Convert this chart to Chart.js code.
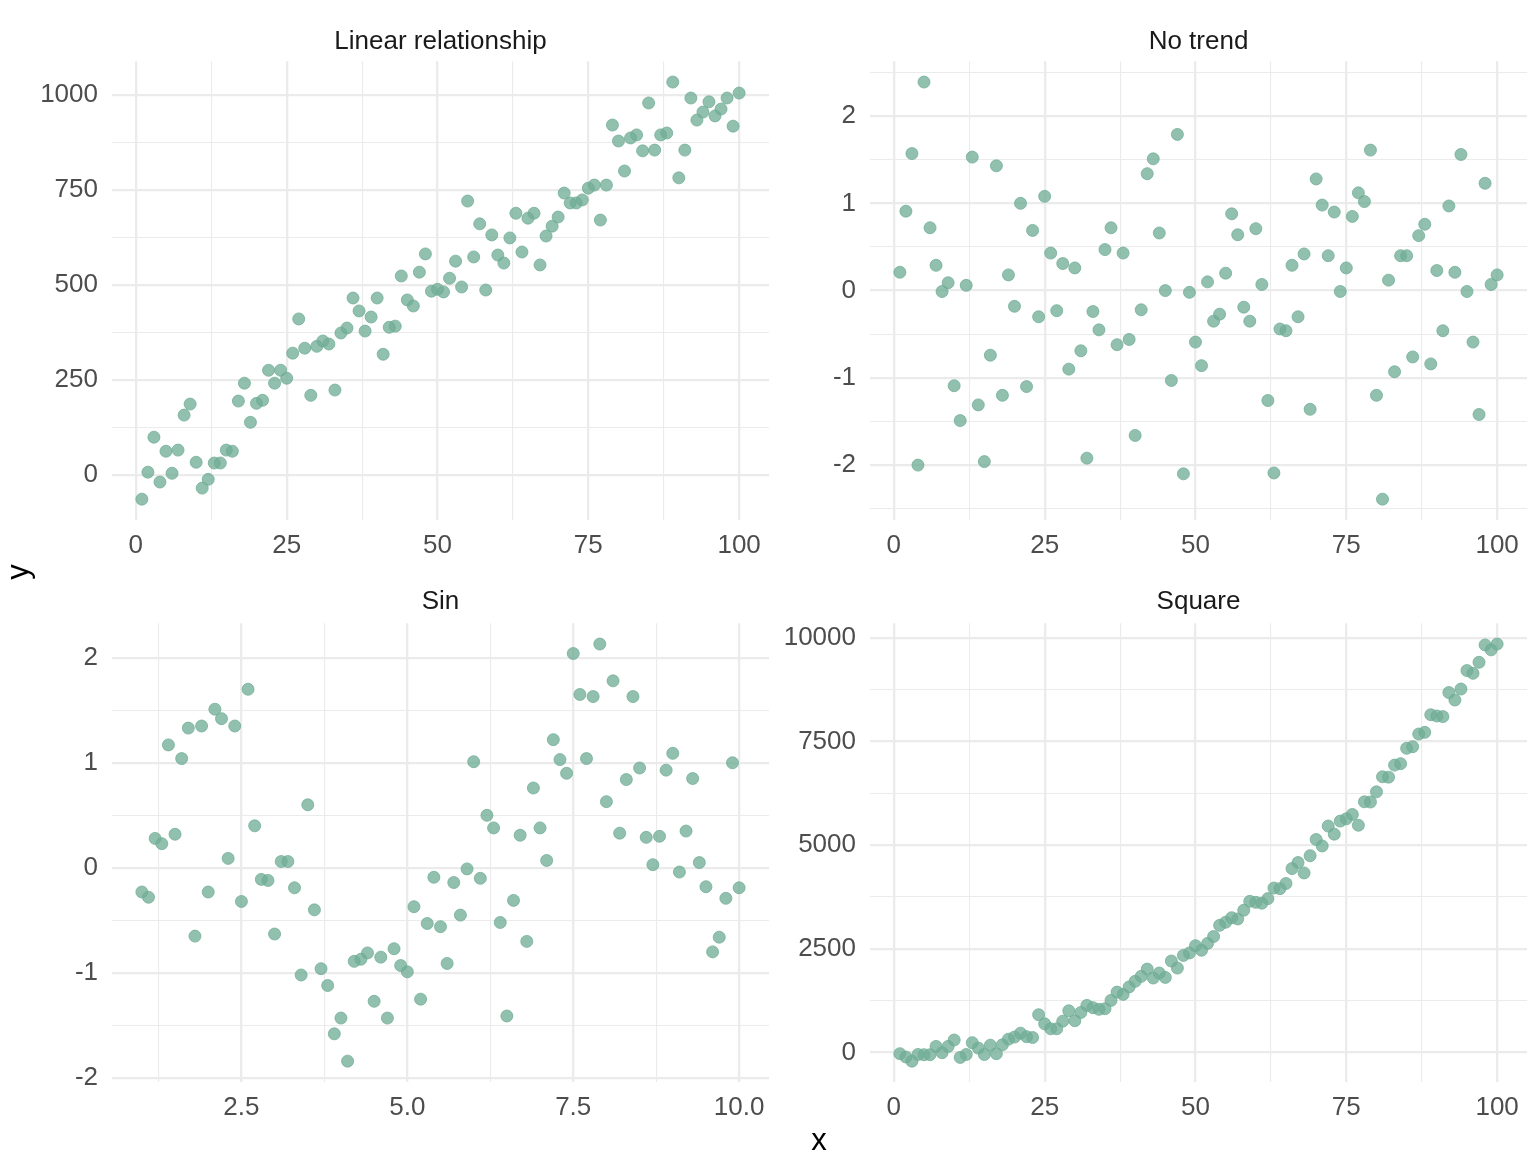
<!DOCTYPE html>
<html>
<head>
<meta charset="utf-8">
<title>Facets</title>
<script src="https://cdn.jsdelivr.net/npm/chart.js@4.4.1/dist/chart.umd.min.js"></script>
<style>
    html, body { margin: 0; padding: 0; background: #ffffff; }
    #page { position: relative; width: 1532px; height: 1152px; overflow: hidden; font-family: "Liberation Sans", Arial, sans-serif; }
    canvas { position: absolute; }
    .axis-title { position: absolute; width: 40px; height: 40px; line-height: 40px; text-align: center; font-size: 31px; color: #000000; }
</style>
</head>
<body>
<div id="page">
    <canvas id="linearChart" width="769" height="560" style="left:0px;top:0px"></canvas>
    <canvas id="noTrendChart" width="757" height="560" style="left:770px;top:0px"></canvas>
    <canvas id="sinChart" width="769" height="562" style="left:0px;top:560px"></canvas>
    <canvas id="squareChart" width="757" height="562" style="left:770px;top:560px"></canvas>
    <div class="axis-title" style="left:-2px;top:552px;transform:rotate(-90deg)">y</div>
    <div class="axis-title" style="left:799px;top:1120px">x</div>
</div>
<script>
"use strict";

var FONT = '"Liberation Sans", Arial, sans-serif';

/* x values for the three panels on 1..100 */
var stepX = [
    1, 2, 3, 4, 5, 6, 7, 8, 9, 10, 11, 12, 13, 14, 15, 16, 17, 18, 19, 20,
    21, 22, 23, 24, 25, 26, 27, 28, 29, 30, 31, 32, 33, 34, 35, 36, 37, 38, 39, 40,
    41, 42, 43, 44, 45, 46, 47, 48, 49, 50, 51, 52, 53, 54, 55, 56, 57, 58, 59, 60,
    61, 62, 63, 64, 65, 66, 67, 68, 69, 70, 71, 72, 73, 74, 75, 76, 77, 78, 79, 80,
    81, 82, 83, 84, 85, 86, 87, 88, 89, 90, 91, 92, 93, 94, 95, 96, 97, 98, 99, 100
];

/* x values for the sin panel, 1 to 10 by 0.1 */
var sinX = [
    1.0, 1.1, 1.2, 1.3, 1.4, 1.5, 1.6, 1.7, 1.8, 1.9,
    2.0, 2.1, 2.2, 2.3, 2.4, 2.5, 2.6, 2.7, 2.8, 2.9,
    3.0, 3.1, 3.2, 3.3, 3.4, 3.5, 3.6, 3.7, 3.8, 3.9,
    4.0, 4.1, 4.2, 4.3, 4.4, 4.5, 4.6, 4.7, 4.8, 4.9,
    5.0, 5.1, 5.2, 5.3, 5.4, 5.5, 5.6, 5.7, 5.8, 5.9,
    6.0, 6.1, 6.2, 6.3, 6.4, 6.5, 6.6, 6.7, 6.8, 6.9,
    7.0, 7.1, 7.2, 7.3, 7.4, 7.5, 7.6, 7.7, 7.8, 7.9,
    8.0, 8.1, 8.2, 8.3, 8.4, 8.5, 8.6, 8.7, 8.8, 8.9,
    9.0, 9.1, 9.2, 9.3, 9.4, 9.5, 9.6, 9.7, 9.8, 9.9,
    10.0
];

var linearY = [
    -63, 8, 100, -18, 63, 5, 66, 158, 187, 34,
    -34, -11, 32, 32, 66, 63, 195, 242, 139, 189,
    197, 276, 242, 276, 255, 321, 411, 334, 210, 339,
    353, 345, 224, 374, 387, 466, 432, 379, 416, 466,
    318, 389, 392, 524, 461, 445, 534, 582, 484, 489,
    482, 518, 563, 495, 721, 574, 661, 487, 632, 579,
    558, 624, 689, 587, 676, 689, 553, 629, 655, 679,
    742, 716, 716, 724, 755, 763, 671, 763, 921, 879,
    800, 887, 895, 853, 979, 855, 895, 900, 1034, 782,
    855, 992, 934, 955, 982, 945, 963, 992, 918, 1005
];

var noTrendY = [
    0.21, 0.91, 1.57, -2.00, 2.39, 0.72, 0.29, -0.01, 0.09, -1.09,
    -1.49, 0.06, 1.53, -1.31, -1.96, -0.74, 1.43, -1.20, 0.18, -0.18,
    1.00, -1.10, 0.69, -0.30, 1.08, 0.43, -0.23, 0.31, -0.90, 0.26,
    -0.69, -1.92, -0.24, -0.45, 0.47, 0.72, -0.62, 0.43, -0.56, -1.66,
    -0.22, 1.34, 1.51, 0.66, 0.00, -1.03, 1.79, -2.10, -0.02, -0.59,
    -0.86, 0.10, -0.35, -0.27, 0.20, 0.88, 0.64, -0.19, -0.35, 0.71,
    0.07, -1.26, -2.09, -0.44, -0.46, 0.29, -0.30, 0.42, -1.36, 1.28,
    0.98, 0.40, 0.90, -0.01, 0.26, 0.85, 1.12, 1.02, 1.61, -1.20,
    -2.39, 0.12, -0.93, 0.40, 0.40, -0.76, 0.63, 0.76, -0.84, 0.23,
    -0.46, 0.97, 0.21, 1.56, -0.01, -0.59, -1.42, 1.23, 0.07, 0.18
];

var sinY = [
    -0.23, -0.28, 0.28, 0.23, 1.17, 0.32, 1.04, 1.33, -0.65, 1.35,
    -0.23, 1.51, 1.42, 0.09, 1.35, -0.32, 1.70, 0.40, -0.11, -0.12,
    -0.63, 0.06, 0.06, -0.19, -1.02, 0.60, -0.40, -0.96, -1.12, -1.58,
    -1.43, -1.84, -0.89, -0.87, -0.81, -1.27, -0.85, -1.43, -0.77, -0.93,
    -0.99, -0.37, -1.25, -0.53, -0.09, -0.56, -0.91, -0.14, -0.45, -0.01,
    1.01, -0.10, 0.50, 0.38, -0.52, -1.41, -0.31, 0.31, -0.70, 0.76,
    0.38, 0.07, 1.22, 1.03, 0.90, 2.04, 1.65, 1.04, 1.63, 2.13,
    0.63, 1.78, 0.33, 0.84, 1.63, 0.95, 0.29, 0.03, 0.30, 0.93,
    1.09, -0.04, 0.35, 0.85, 0.05, -0.18, -0.80, -0.66, -0.29, 1.00,
    -0.19
];

var squareY = [
    -30, -110, -210, -50, -55, -55, 145, -7, 145, 300,
    -120, -50, 235, 105, -50, 175, -30, 185, 320, 370,
    465, 380, 360, 910, 690, 570, 570, 755, 1005, 765,
    965, 1135, 1080, 1040, 1055, 1255, 1455, 1400, 1580, 1715,
    1835, 2010, 1795, 1915, 1810, 2205, 2035, 2340, 2400, 2575,
    2465, 2630, 2795, 3065, 3140, 3250, 3220, 3430, 3645, 3620,
    3600, 3710, 3965, 3950, 4075, 4435, 4580, 4330, 4745, 5135,
    4980, 5460, 5265, 5580, 5635, 5740, 5480, 6045, 6040, 6285,
    6650, 6640, 6930, 6965, 7335, 7375, 7680, 7720, 8145, 8115,
    8100, 8680, 8500, 8765, 9210, 9145, 9410, 9830, 9710, 9850
];

/* labelled (major) ticks; minor grid lines fall half way between */
var stepXTicks = [0, 25, 50, 75, 100];
var sinXTicks = [2.5, 5.0, 7.5, 10.0];
var linearYTicks = [0, 250, 500, 750, 1000];
var noTrendYTicks = [-2, -1, 0, 1, 2];
var sinYTicks = [-2, -1, 0, 1, 2];
var squareYTicks = [0, 2500, 5000, 7500, 10000];

var pointColor = "rgba(112,172,150,0.76)";

function isMajor(value, majorTicks) {
    for (var i = 0; i < majorTicks.length; i++) {
        if (Math.abs(majorTicks[i] - value) < 1e-9) return true;
    }
    return false;
}

// ggplot style 5% expansion of the data range
function expandRange(values) {
    var lo = Math.min.apply(null, values);
    var hi = Math.max.apply(null, values);
    var pad = (hi - lo) * 0.05;
    return { min: lo - pad, max: hi + pad };
}

function axisOptions(values, majorTicks, format, horizontal, fixedSize) {
    var range = expandRange(values);
    var half = (majorTicks[1] - majorTicks[0]) / 2;
    return {
        type: "linear",
        min: range.min,
        max: range.max,
        border: { display: false },
        grid: {
            color: "#EBEBEB",
            drawTicks: false,
            lineWidth: function (ctx) {
                if (!ctx.tick) return 1.1;
                return isMajor(ctx.tick.value, majorTicks) ? 2.3 : 1.1;
            }
        },
        // major ticks plus the minor ones half way between them
        afterBuildTicks: function (scale) {
            var ticks = [];
            var last = majorTicks[majorTicks.length - 1] + half;
            for (var v = majorTicks[0] - half; v <= last + 1e-9; v += half) {
                var t = Math.round(v * 1e6) / 1e6;
                if (t >= scale.min && t <= scale.max) ticks.push({ value: t });
            }
            scale.ticks = ticks;
        },
        ticks: {
            autoSkip: false,
            maxRotation: 0,
            minRotation: 0,
            padding: horizontal ? 10 : 14,
            color: "#4D4D4D",
            font: { family: FONT, size: 26 },
            callback: function (value) {
                return isMajor(value, majorTicks) ? format(value) : "";
            }
        },
        // fixed axis size, and no extra room pushed into the plot for edge labels
        afterFit: function (scale) {
            if (horizontal) scale.height = fixedSize;
            else scale.width = fixedSize;
            scale.paddingLeft = 0;
            scale.paddingRight = 0;
            scale.paddingTop = 0;
            scale.paddingBottom = 0;
        }
    };
}

function plainLabel(v) { return String(Math.round(v * 1000) / 1000); }
function oneDecimal(v) { return v.toFixed(1); }

function drawPanel(canvasId, title, xs, ys, xTicks, yTicks, xFormat, yAxisWidth, titleBottom) {
    var points = [];
    for (var i = 0; i < xs.length; i++) {
        points.push({ x: xs[i], y: ys[i] });
    }

    return new Chart(document.getElementById(canvasId), {
        type: "scatter",
        data: {
            datasets: [{
                data: points,
                backgroundColor: pointColor,
                borderColor: pointColor,
                borderWidth: 1,
                pointRadius: 6,
                pointHoverRadius: 6
            }]
        },
        options: {
            responsive: false,
            animation: false,
            layout: { padding: 0, autoPadding: false },
            plugins: {
                legend: { display: false },
                tooltip: { enabled: false },
                title: {
                    display: true,
                    fullSize: false,
                    text: title,
                    color: "#1A1A1A",
                    font: { family: FONT, size: 26, weight: "normal", lineHeight: 1.2 },
                    padding: { top: 26, bottom: titleBottom }
                }
            },
            scales: {
                x: axisOptions(xs, xTicks, xFormat, true, 40),
                y: axisOptions(ys, yTicks, plainLabel, false, yAxisWidth)
            }
        }
    });
}

drawPanel("linearChart", "Linear relationship", stepX, linearY, stepXTicks, linearYTicks, plainLabel, 112, 4);
drawPanel("noTrendChart", "No trend", stepX, noTrendY, stepXTicks, noTrendYTicks, plainLabel, 100, 4);
drawPanel("sinChart", "Sin", sinX, sinY, sinXTicks, sinYTicks, oneDecimal, 112, 6);
drawPanel("squareChart", "Square", stepX, squareY, stepXTicks, squareYTicks, plainLabel, 100, 6);
</script>
</body>
</html>
